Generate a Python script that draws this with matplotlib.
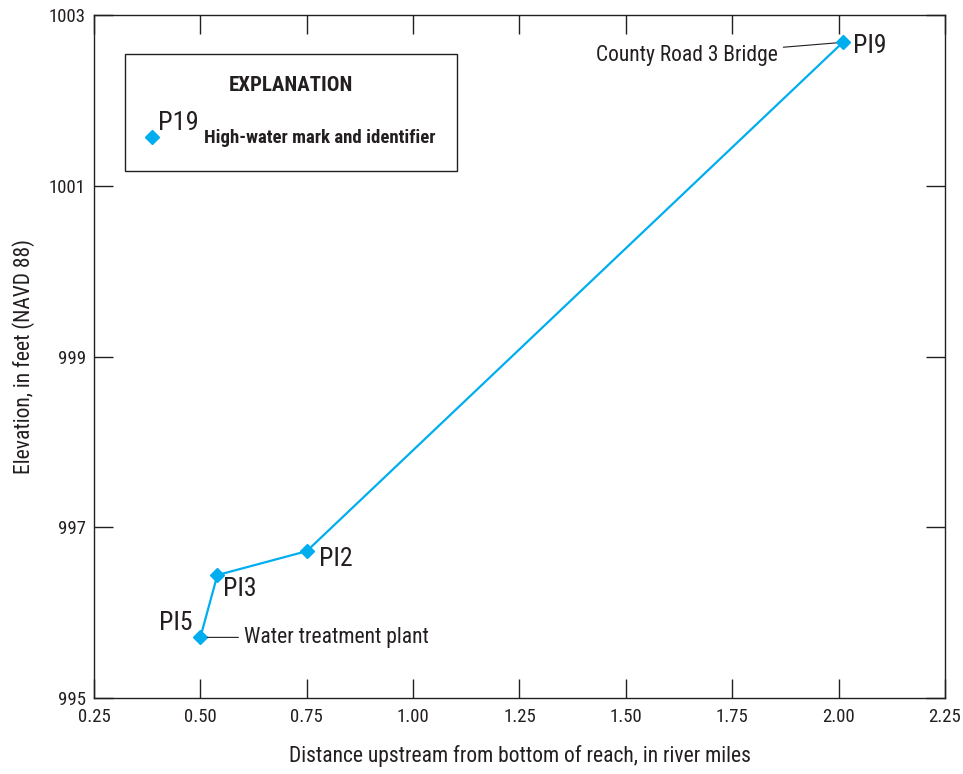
import matplotlib.pyplot as plt
from matplotlib.patches import Rectangle

# dati
distanza = [0.50, 0.54, 0.75, 2.01]
quota = [995.71, 996.44, 996.72, 1002.68]
etichette = ["PI5", "PI3", "PI2", "PI9"]

x_ticks = [0.25, 0.50, 0.75, 1.00, 1.25, 1.50, 1.75, 2.00, 2.25]
y_ticks = [995, 997, 999, 1001, 1003]

blu = "#00AEEF"
grigio = "#231F20"

plt.rcParams['font.family'] = ['Roboto Condensed', 'Roboto', 'DejaVu Sans']
plt.rcParams['font.stretch'] = 'condensed'

fig = plt.figure(figsize=(9.63, 7.74), dpi=100)
ax = fig.add_axes([0.0976, 0.0982, 0.8837, 0.8824])

ax.plot(distanza, quota, color=blu, linewidth=1.6, marker="D",
        markersize=7.5, zorder=3)

ax.set_xlim(0.25, 2.25)
ax.set_ylim(995, 1003)
ax.set_xticks(x_ticks)
ax.set_xticklabels([f"{v:.2f}" for v in x_ticks])
ax.set_yticks(y_ticks)
ax.tick_params(direction="in", length=14, width=1, top=True, right=True,
               labelsize=13.5, colors=grigio, pad=7)
ax.tick_params(axis="y", pad=6)
for s in ax.spines.values():
    s.set_linewidth(1)
    s.set_color(grigio)

ax.set_xlabel("Distance upstream from bottom of reach, in river miles",
              fontsize=15.5, color=grigio, labelpad=14)
ax.set_ylabel("Elevation, in feet (NAVD 88)", fontsize=15.5, color=grigio,
              labelpad=10)

# etichette dei punti
off = [(-30, 2), (4, -19), (9, -14), (7, -11)]
for x, y, t, o in zip(distanza, quota, etichette, off):
    ax.annotate(t, (x, y), xytext=o, textcoords="offset points",
                fontsize=18.5, color=grigio, va="bottom")

# note
ax.annotate("Water treatment plant", (0.50, 995.71), xytext=(0.6025, 995.71),
            fontsize=15.5, color=grigio, va="center",
            arrowprops=dict(arrowstyle="-", color=grigio, lw=0.8,
                            shrinkA=2, shrinkB=5))
ax.annotate("County Road 3 Bridge", (2.01, 1002.68), xytext=(1.857, 1002.53),
            fontsize=15.5, color=grigio, va="center", ha="right",
            arrowprops=dict(arrowstyle="-", color=grigio, lw=0.8,
                            shrinkA=2, shrinkB=5))

# riquadro EXPLANATION
box = Rectangle((0.322, 1001.17), 0.78, 1.37, fill=False,
                edgecolor=grigio, linewidth=1)
ax.add_patch(box)
ax.text(0.712, 1002.18, "EXPLANATION", fontsize=15, fontweight="bold",
        ha="center", va="center", color=grigio)
ax.plot([0.386], [1001.57], marker="D", color=blu, markersize=7.5)
ax.text(0.40, 1001.73, "P19", fontsize=19, color=grigio, va="center")
ax.text(0.5085, 1001.56, "High-water mark and identifier", fontsize=13.5,
        fontweight="bold", color=grigio, va="center")

fig.savefig("out.png", dpi=100)
